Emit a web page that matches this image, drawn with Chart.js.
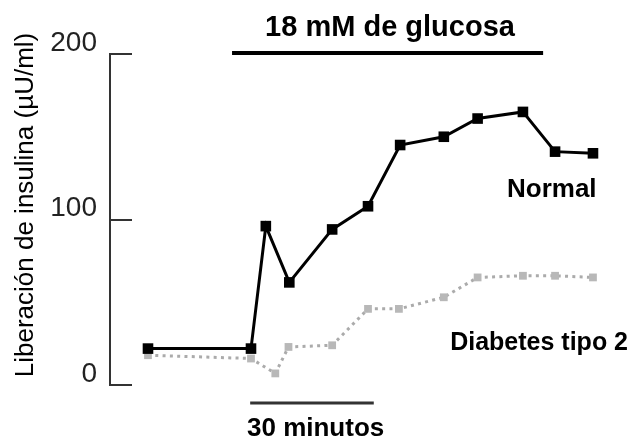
<!DOCTYPE html>
<html>
<head>
<meta charset="utf-8">
<script src="https://cdn.jsdelivr.net/npm/chart.js@4"></script>
<style>
  html, body { margin: 0; padding: 0; background: #ffffff; }
  #wrap { width: 637px; height: 439px; position: relative; }
</style>
</head>
<body>
<div id="wrap"><canvas id="c"></canvas></div>
<script>
// ---- data (time in minutes, insulin in µU/ml) ----
const normalTimes   = [0, 25, 28.6, 34.3, 44.7, 53.4, 61.2, 71.8, 80, 91, 98.8, 108];
const normalValues  = [22, 22, 96, 62, 94, 108, 145, 150, 161, 165, 141, 140];
const diabetesTimes  = [0, 25, 30.9, 34.1, 44.7, 53.4, 60.9, 71.8, 80, 91, 98.8, 108];
const diabetesValues = [18, 16, 7, 23, 24, 46, 46, 53, 65, 66, 66, 65];
const yTicks = [0, 100, 200];
const glucosePeriod = [20.4, 95.9];   // 18 mM glucose bar (minutes)
const scaleBar = [24.8, 54.8];        // 30 minutes scale bar

const labels = {
  yTitle: 'Liberación de insulina (µU/ml)',
  glucose: '18 mM de glucosa',
  scaleBar: '30 minutos',
  normal: 'Normal',
  diabetes: 'Diabetes tipo 2'
};

const FONT = '"Liberation Sans", Arial, Helvetica, sans-serif';
Chart.defaults.font.family = FONT;

const annotations = {
  id: 'annotations',
  afterDraw(chart) {
    const ctx = chart.ctx;
    const x = chart.scales.x, y = chart.scales.y;
    const area = chart.chartArea;
    ctx.save();
    // tick marks pointing into the plot
    ctx.strokeStyle = '#333333';
    ctx.lineWidth = 2;
    yTicks.forEach(v => {
      const py = Math.round(y.getPixelForValue(v));
      ctx.beginPath();
      ctx.moveTo(area.left, py);
      ctx.lineTo(area.left + 22, py);
      ctx.stroke();
    });
    // glucose bar
    ctx.strokeStyle = '#000000';
    ctx.lineWidth = 4;
    ctx.beginPath();
    ctx.moveTo(x.getPixelForValue(glucosePeriod[0]), area.top - 1);
    ctx.lineTo(x.getPixelForValue(glucosePeriod[1]), area.top - 1);
    ctx.stroke();
    // 30 min bar
    ctx.strokeStyle = '#333333';
    ctx.lineWidth = 3;
    ctx.beginPath();
    ctx.moveTo(x.getPixelForValue(scaleBar[0]), area.bottom + 18);
    ctx.lineTo(x.getPixelForValue(scaleBar[1]), area.bottom + 18);
    ctx.stroke();

    ctx.fillStyle = '#000000';
    ctx.textBaseline = 'alphabetic';
    // title
    ctx.font = 'bold 29px ' + FONT;
    ctx.textAlign = 'center';
    ctx.fillText(labels.glucose, 390, 36);
    // 30 minutos
    ctx.font = 'bold 26px ' + FONT;
    ctx.textAlign = 'left';
    ctx.fillText(labels.scaleBar, 247, 436);
    // series labels
    ctx.font = 'bold 26px ' + FONT;
    ctx.fillText(labels.normal, 507, 197);
    ctx.font = 'bold 25px ' + FONT;
    ctx.textAlign = 'right';
    ctx.fillText(labels.diabetes, 628, 350);
    // y title
    ctx.font = '26px ' + FONT;
    ctx.textAlign = 'center';
    ctx.translate(33, 205);
    ctx.rotate(-Math.PI / 2);
    ctx.fillText(labels.yTitle, 0, 0);
    ctx.restore();
  }
};

new Chart(document.getElementById('c'), {
  type: 'line',
  data: {
    datasets: [
      {
        label: labels.normal,
        data: normalTimes.map((t, i) => ({ x: t, y: normalValues[i] })),
        borderColor: '#000000',
        borderWidth: 3,
        pointStyle: 'rect',
        pointRadius: 7.5,
        pointBackgroundColor: '#000000',
        pointBorderWidth: 0,
        tension: 0,
        clip: false
      },
      {
        label: labels.diabetes,
        data: diabetesTimes.map((t, i) => ({ x: t, y: diabetesValues[i] })),
        borderColor: '#ababab',
        borderWidth: 3,
        borderDash: [3, 4.3],
        pointStyle: 'rect',
        pointRadius: 5.5,
        pointBackgroundColor: '#b8b8b8',
        pointBorderWidth: 0,
        tension: 0,
        clip: false
      }
    ]
  },
  options: {
    responsive: true,
    maintainAspectRatio: false,
    animation: false,
    layout: { padding: { left: 0, top: 54, right: 17, bottom: 54 } },
    plugins: { legend: { display: false }, tooltip: { enabled: false } },
    scales: {
      x: {
        type: 'linear',
        min: -9.22,
        max: 114.56,
        display: false
      },
      y: {
        min: 0,
        max: 200,
        afterFit(scale) { scale.width = 110; },
        afterBuildTicks(scale) { scale.ticks = yTicks.map(v => ({ value: v })); },
        grid: { display: false, drawTicks: false, tickLength: 0 },
        border: { display: true, color: '#333333', width: 2 },
        ticks: {
          padding: 13,
          labelOffset: -11,
          color: '#222222',
          font: { size: 28 }
        }
      }
    }
  },
  plugins: [annotations]
});
</script>
</body>
</html>
